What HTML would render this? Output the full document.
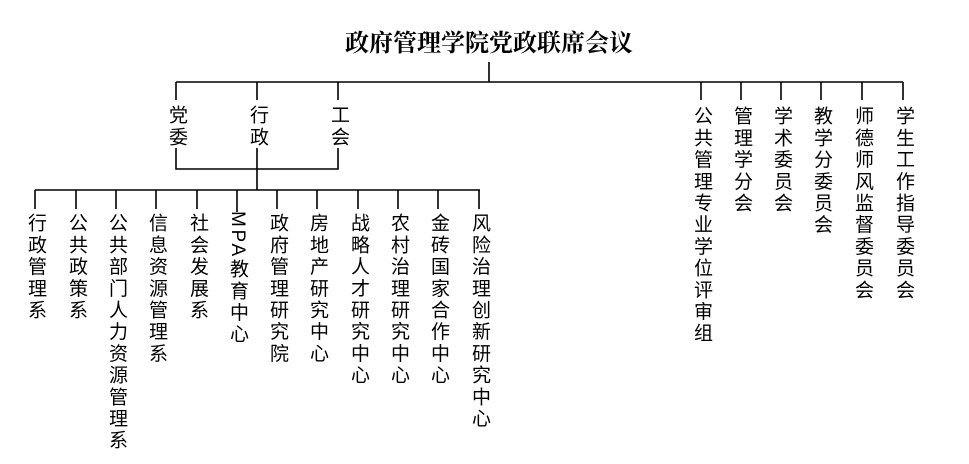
<!DOCTYPE html>
<html><head><meta charset="utf-8"><style>
body{margin:0;width:969px;height:464px;background:#fff;position:relative;overflow:hidden;font-family:"Liberation Sans","Noto Sans CJK SC",sans-serif;}
.t{position:absolute;font-size:19px;line-height:19px;writing-mode:vertical-rl;letter-spacing:2.7px;color:#000;width:20px;}
.title{position:absolute;left:289px;top:30px;width:400px;text-align:center;font-family:"Liberation Serif","Noto Serif CJK SC",serif;font-weight:bold;font-size:24px;line-height:28px;}
svg{position:absolute;left:0;top:0}
</style></head><body>
<svg width="969" height="464"><g stroke="#000" stroke-width="1.6" fill="none">
<path d="M489 62V82M176 82H903M176 82V100M257 82V100M338 82V100"/>
<path d="M701 82V100M741 82V100M781 82V100M821 82V100M862 82V100M903 82V100"/>
<path d="M176 148V169H338V148M257 148V190M35 190H480"/>
<path d="M35 190V209M76 190V209M116 190V209M156 190V209M197 190V209M237 190V212M277 190V209M317 190V209M358 190V209M398 190V209M438 190V209M479 190V209"/>
</g></svg>
<div class="title">政府管理学院党政联席会议</div>
<div class="t" style="left:166px;top:105px">党委</div>
<div class="t" style="left:247px;top:105px">行政</div>
<div class="t" style="left:328px;top:105px">工会</div>
<div class="t" style="left:691px;top:106px">公共管理专业学位评审组</div>
<div class="t" style="left:731px;top:106px">管理学分会</div>
<div class="t" style="left:771px;top:106px">学术委员会</div>
<div class="t" style="left:811px;top:106px">教学分委员会</div>
<div class="t" style="left:852px;top:106px">师德师风监督委员会</div>
<div class="t" style="left:893px;top:106px">学生工作指导委员会</div>
<div class="t" style="left:25px;top:213px">行政管理系</div>
<div class="t" style="left:66px;top:213px">公共政策系</div>
<div class="t" style="left:106px;top:213px">公共部门人力资源管理系</div>
<div class="t" style="left:146px;top:213px">信息资源管理系</div>
<div class="t" style="left:187px;top:213px">社会发展系</div>
<div class="t" style="left:227px;top:211px">MPA教育中心</div>
<div class="t" style="left:267px;top:213px">政府管理研究院</div>
<div class="t" style="left:307px;top:213px">房地产研究中心</div>
<div class="t" style="left:348px;top:213px">战略人才研究中心</div>
<div class="t" style="left:388px;top:213px">农村治理研究中心</div>
<div class="t" style="left:428px;top:213px">金砖国家合作中心</div>
<div class="t" style="left:469px;top:213px">风险治理创新研究中心</div>
</body></html>
